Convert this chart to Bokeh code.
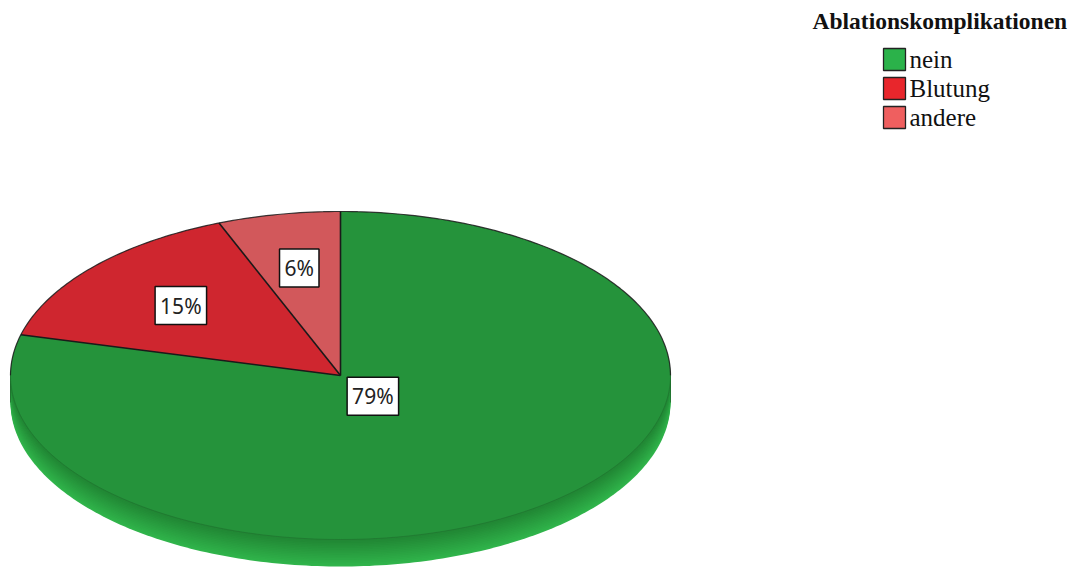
import numpy as np
from bokeh.plotting import figure
from bokeh.models import Range1d
from bokeh.core.properties import value
from bokeh.embed import file_html
from bokeh.resources import INLINE

# ---- data ----
categories = ["nein", "Blutung", "andere"]
percent = [79, 15, 6]
labels = ["79%", "15%", "6%"]
legend_title = "Ablationskomplikationen"

# ---- styles / layout ----
face_colors = ["#25933b", "#cf262f", "#d2585b"]
legend_colors = ["#2bb24a", "#e8262c", "#ef5f5f"]
W, H = 1074, 567
CX, CY, RX, RY, DEPTH = 340, 375, 330, 164, 27
label_r = [0.16, 0.645, 0.667]
draw_order = [2, 1, 0]  # counter-clockwise from 12 o'clock
LEG_SQ_X, LEG_Y0, LEG_DY, LEG_SQ = 894, 59, 29, 22
LEG_TXT_X = 909
TITLE_X, TITLE_Y = 812, 20

p = figure(width=W, height=H, x_range=Range1d(0, W), y_range=Range1d(H, 0),
           output_backend="svg", toolbar_location=None, min_border=0,
           x_axis_location=None, y_axis_location=None)
p.grid.visible = False
p.outline_line_color = None
p.background_fill_color = "white"
p.border_fill_color = "white"


def pt(theta_deg, r=1.0, dy=0.0):
    t = np.radians(theta_deg)
    return CX - RX * r * np.sin(t), CY - RY * r * np.cos(t) + dy


# ---- side (depth) with vertical gradient ----
N = 16
dark = np.array([0x22, 0x88, 0x35])
light = np.array([0x30, 0xb4, 0x4b])
full = np.linspace(0, 360, 361)
side_xs, side_ys, side_cols = [], [], []
for k in range(N):
    d = DEPTH * (1 - k / N)
    x, y = pt(full, dy=d)
    f = 1 - k / (N - 1)
    c = (dark + (light - dark) * f).astype(int)
    side_xs.append(list(x)); side_ys.append(list(y))
    side_cols.append("#%02x%02x%02x" % tuple(c))
p.patches(side_xs, side_ys, fill_color=side_cols, line_color=None)

# silhouette edges of the side
for th in (90, 270):
    x0, y0 = pt(th)
    p.line([x0, x0], [y0, y0 + DEPTH], line_color="#1d5a27", line_width=1, line_alpha=0.6)

# ---- top face slices ----
total = sum(percent)
start = 0.0
xs, ys, cols = [], [], []
bounds = []
mids = {}
for i in draw_order:
    span = 360.0 * percent[i] / total
    a = np.linspace(start, start + span, max(int(span * 2), 4))
    x, y = pt(a)
    xs.append([CX] + list(x)); ys.append([CY] + list(y))
    cols.append(face_colors[i])
    bounds.append(start)
    mids[i] = start + span / 2
    start += span
p.patches(xs, ys, fill_color=cols, line_color=None)

# outlines
back = np.linspace(-90, 90, 181)
bx, by = pt(back)
p.line(bx, by, line_color="#1a1a1a", line_width=1.2, line_alpha=0.85)
front = np.linspace(90, 270, 181)
fx, fy = pt(front)
p.line(fx, fy, line_color="#1d6a2c", line_width=1, line_alpha=0.5)
for b in bounds:
    ex, ey = pt(b)
    p.line([CX, ex], [CY, ey], line_color="#1a1a1a", line_width=1.6)

# ---- labels ----
lx, ly = [], []
for i in range(len(categories)):
    x, y = pt(mids[i], r=label_r[i])
    lx.append(x); ly.append(y)
p.text(x=lx, y=ly, text=labels, text_align="center", text_baseline="middle",
       text_font=value("Noto Sans"), text_font_size="21px",
       text_color="#222222", background_fill_color="white",
       border_line_color="#111111", border_line_width=1.5, padding=5)

# ---- legend ----
ly_leg = [LEG_Y0 + k * LEG_DY for k in range(len(categories))]
p.rect(x=[LEG_SQ_X] * len(categories), y=ly_leg, width=LEG_SQ, height=LEG_SQ,
       fill_color=legend_colors, line_color="#222222", line_width=1.3)
p.text(x=[LEG_TXT_X] * len(categories), y=ly_leg, text=categories,
       text_align="left", text_baseline="middle",
       text_font=value("Liberation Serif"), text_font_size="25px", text_color="#111111")
p.text(x=[TITLE_X], y=[TITLE_Y], text=[legend_title], text_align="left",
       text_baseline="middle", text_font=value("Liberation Serif"),
       text_font_size="23.5px", text_font_style="bold", text_color="#111111")

open("out.html", "w").write(file_html(p, INLINE))
